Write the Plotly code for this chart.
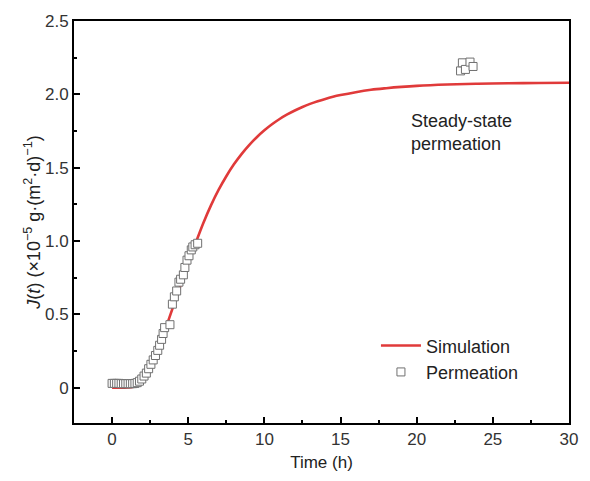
import plotly.graph_objects as go

# Simulation curve
sim_t = [0, 0.5, 1, 1.5, 2, 2.5, 3, 3.5, 4, 4.5, 5, 5.5, 6, 6.5, 7, 7.5, 8, 8.5, 9, 9.5,
         10, 10.5, 11, 11.5, 12, 12.5, 13, 13.5, 14, 14.5, 15, 16, 17, 18, 19, 20, 22, 24, 26, 28, 30]
sim_j = [0, 0, 0.002, 0.01, 0.05, 0.13, 0.25, 0.40, 0.55, 0.70, 0.85, 0.99, 1.125, 1.245, 1.35, 1.442, 1.523, 1.593, 1.654, 1.708,
         1.755, 1.796, 1.832, 1.863, 1.89, 1.914, 1.935, 1.953, 1.969, 1.983, 1.995, 2.015, 2.031, 2.042, 2.051, 2.058,
         2.067, 2.0725, 2.076, 2.0775, 2.079]

perm_t = [0.0, 0.15, 0.3, 0.45, 0.6, 0.75, 0.9, 1.05, 1.2, 1.35, 1.5, 1.65,
          1.8, 1.95, 2.1, 2.25, 2.4, 2.55, 2.7, 2.85, 3.0, 3.12, 3.25, 3.35, 3.45, 3.8,
          3.96, 4.09, 4.24, 4.39, 4.5, 4.68, 4.78, 4.92, 5.05, 5.2, 5.3, 5.45, 5.62,
          22.88, 23.0, 23.2, 23.5, 23.7]
perm_j = [0.03, 0.03, 0.03, 0.03, 0.028, 0.028, 0.028, 0.028, 0.028, 0.028, 0.03, 0.035,
          0.045, 0.06, 0.08, 0.10, 0.13, 0.16, 0.19, 0.22, 0.255, 0.29, 0.33, 0.37, 0.41, 0.43,
          0.57, 0.62, 0.66, 0.72, 0.74, 0.77, 0.82, 0.87, 0.90, 0.94, 0.96, 0.975, 0.985,
          2.16, 2.215, 2.17, 2.22, 2.19]

x_ticks = [0, 5, 10, 15, 20, 25, 30]
x_ticklabels = ["0", "5", "10", "15", "20", "25", "30"]
y_ticks = [0, 0.5, 1.0, 1.5, 2.0, 2.5]
y_ticklabels = ["0", "0.5", "1.0", "1.5", "2.0", "2.5"]

FONT = "Arial, Liberation Sans, sans-serif"
FS = 17
FS_T = 18

fig = go.Figure()
fig.add_trace(go.Scatter(
    x=sim_t, y=sim_j, mode="lines", name="Simulation",
    line=dict(color="#e03a3a", width=2.6, shape="spline", smoothing=1.0),
))
fig.add_trace(go.Scatter(
    x=perm_t, y=perm_j, mode="markers", name="Permeation",
    marker=dict(symbol="square", size=8, color="white",
                line=dict(color="#707070", width=1)),
))

axis_common = dict(
    showline=True, linecolor="black", linewidth=2, mirror=True,
    ticks="inside", ticklen=6, tickwidth=2, tickcolor="black",
    showgrid=False, zeroline=False,
    tickfont=dict(family=FONT, size=FS, color="#333333"),
)

fig.update_xaxes(
    range=[-2.5, 30], tickmode="array", tickvals=x_ticks, ticktext=x_ticklabels,
    minor=dict(dtick=2.5, ticks="inside", ticklen=3, tickwidth=2, tickcolor="black"),
    title=dict(text="Time (h)", font=dict(family=FONT, size=FS, color="#222222"), standoff=8),
    **axis_common,
)
fig.update_yaxes(
    range=[-0.24, 2.5], tickmode="array", tickvals=y_ticks, ticktext=y_ticklabels,
    minor=dict(dtick=0.25, tick0=0, ticks="inside", ticklen=3, tickwidth=2, tickcolor="black"),
    title=dict(text="<i>J</i>(<i>t</i>) (×10<sup>−5</sup> g·(m<sup>2</sup>·d)<sup>−1</sup>)",
               font=dict(family=FONT, size=FS_T, color="#222222"), standoff=0),
    **axis_common,
)

fig.add_annotation(
    x=19.5, y=1.74, xref="x", yref="y", xanchor="left", yanchor="middle",
    text="Steady-state<br>permeation", showarrow=False, align="left",
    font=dict(family=FONT, size=FS_T, color="#222222"),
)

fig.update_layout(
    width=590, height=481,
    margin=dict(l=74, r=18, t=18, b=57),
    paper_bgcolor="white", plot_bgcolor="white",
    font=dict(family=FONT, size=FS, color="#222222"),
    legend=dict(x=0.61, y=0.238, xanchor="left", yanchor="top",
                bgcolor="rgba(0,0,0,0)", font=dict(family=FONT, size=FS_T, color="#222222"),
                tracegroupgap=0, itemwidth=40),
    showlegend=True,
)

fig.write_html("out.html")
